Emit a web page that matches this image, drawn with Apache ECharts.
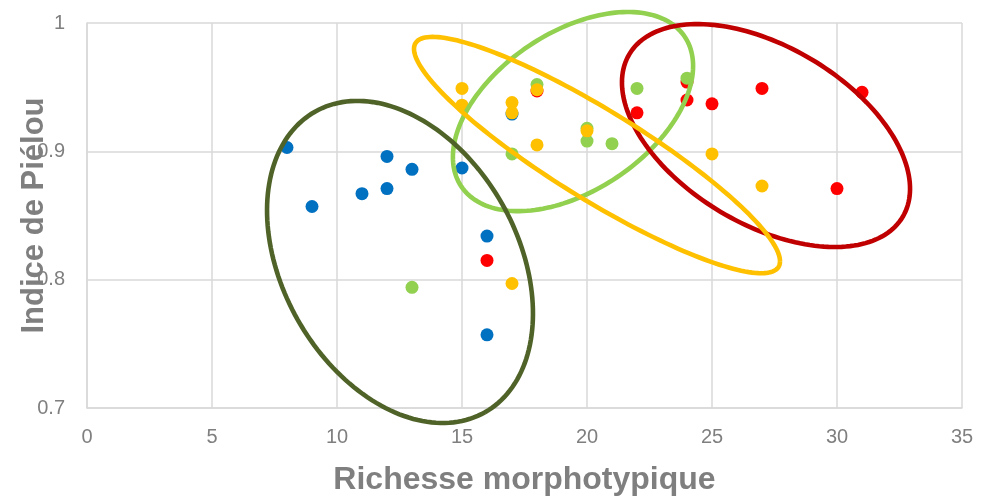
<!DOCTYPE html>
<html>
<head>
<meta charset="utf-8">
<script src="https://cdn.jsdelivr.net/npm/echarts@6/dist/echarts.min.js"></script>
<style>html,body{margin:0;padding:0;background:#fff}#c{width:981px;height:498px}</style>
</head>
<body>
<div id="c"></div>
<script>
// Tick settings
const xTicks = [0, 5, 10, 15, 20, 25, 30, 35];
const yTicks = [0.7, 0.8, 0.9, 1];

// Series values [richesse, piélou]
const blueData = [[8,0.903],[9,0.857],[11,0.867],[12,0.896],[12,0.871],[13,0.886],[15,0.887],[16,0.834],[16,0.757],[17,0.929]];
const redData = [[16,0.815],[18,0.947],[22,0.930],[24,0.954],[24,0.940],[25,0.937],[27,0.949],[31,0.946],[30,0.871]];
const greenData = [[13,0.794],[17,0.898],[18,0.952],[20,0.918],[20,0.908],[21,0.906],[22,0.949],[24,0.957]];
const yellowData = [[15,0.949],[15,0.936],[17,0.938],[17,0.930],[18,0.948],[18,0.905],[20,0.916],[17,0.797],[25,0.898],[27,0.873]];

// Group ellipses: [centre x, centre y, axis1 dx, axis1 dy, axis2 dx, axis2 dy] in data units
const ellipseOlive = [12.52, 0.8138, 3.40, -0.1171, -4.09, -0.0451];
const ellipseGreen = [19.44, 0.9310, 4.47, 0.0583, 1.76, -0.0512];
const ellipseYellow = [20.40, 0.8971, 7.32, -0.0827, 0, -0.0405];
const ellipseRed = [27.16, 0.9123, 5.47, -0.0633, -1.81, -0.0595];

const chart = echarts.init(document.getElementById('c'), null, {renderer: 'canvas'});
const font = 'Liberation Sans, Arial, sans-serif';
const gridColor = '#D9D9D9';
const txtColor = '#7F7F7F';

function ellipseSeries(p, color, z) {
  return {
    type: 'custom',
    coordinateSystem: 'cartesian2d',
    clip: false,
    z: z,
    silent: true,
    data: [p],
    encode: {x: 0, y: 1},
    renderItem: function (params, api) {
      const pts = [];
      const n = 180;
      for (let i = 0; i <= n; i++) {
        const t = 2 * Math.PI * i / n;
        const x = api.value(0) + api.value(2) * Math.cos(t) + api.value(4) * Math.sin(t);
        const y = api.value(1) + api.value(3) * Math.cos(t) + api.value(5) * Math.sin(t);
        pts.push(api.coord([x, y]));
      }
      return {
        type: 'polyline',
        shape: {points: pts},
        style: {stroke: color, lineWidth: 4.6, fill: null}
      };
    }
  };
}

function pointSeries(data, color, z) {
  return {
    type: 'scatter',
    data: data,
    symbol: 'circle',
    symbolSize: 13,
    z: z,
    itemStyle: {color: color, opacity: 1},
    emphasis: {disabled: true}
  };
}

chart.setOption({
  animation: false,
  backgroundColor: '#ffffff',
  grid: {left: 87, right: 19, top: 23, bottom: 90, containLabel: false, outerBoundsMode: 'none'},
  xAxis: {
    type: 'value',
    min: xTicks[0], max: xTicks[xTicks.length - 1], interval: 5,
    name: 'Richesse morphotypique',
    nameLocation: 'middle',
    nameGap: 56,
    nameMoveOverlap: false,
    nameTextStyle: {fontFamily: font, fontSize: 32, fontWeight: 'bold', color: txtColor},
    axisLine: {show: true, lineStyle: {color: gridColor, width: 1.5}},
    axisTick: {show: false},
    axisLabel: {fontFamily: font, fontSize: 20, color: txtColor, margin: 19},
    splitLine: {show: true, lineStyle: {color: gridColor, width: 1.5}}
  },
  yAxis: {
    type: 'value',
    min: yTicks[0], max: yTicks[yTicks.length - 1], interval: 0.1,
    name: 'Indice de Piélou',
    nameLocation: 'middle',
    nameGap: 37,
    nameMoveOverlap: false,
    nameTextStyle: {fontFamily: font, fontSize: 31, fontWeight: 'bold', color: txtColor},
    axisLine: {show: true, lineStyle: {color: gridColor, width: 1.5}},
    axisTick: {show: false},
    axisLabel: {fontFamily: font, fontSize: 20, color: txtColor, margin: 22,
      formatter: function (v) { return String(Math.round(v * 10) / 10); }},
    splitLine: {show: true, lineStyle: {color: gridColor, width: 1.5}}
  },
  series: [
    pointSeries(blueData, '#0070C0', 2),
    pointSeries(redData, '#FF0000', 3),
    pointSeries(greenData, '#92D050', 4),
    pointSeries(yellowData, '#FFC000', 5),
    ellipseSeries(ellipseGreen, '#92D050', 10),
    ellipseSeries(ellipseOlive, '#4F6228', 11),
    ellipseSeries(ellipseRed, '#C00000', 12),
    ellipseSeries(ellipseYellow, '#FFC000', 13)
  ]
});
</script>
</body>
</html>
